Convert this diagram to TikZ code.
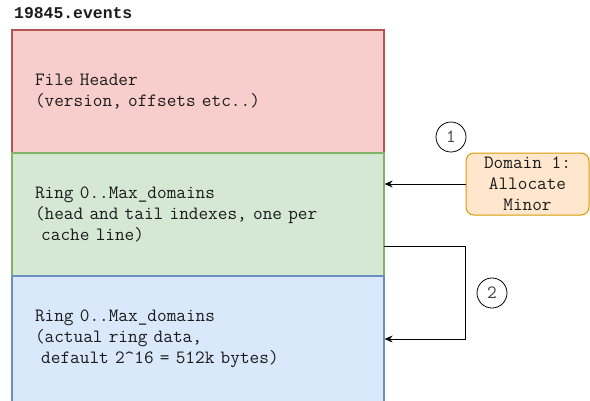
\documentclass[tikz,border=0pt]{standalone}
\usepackage{fontspec}
\usepackage{tikz}
\usetikzlibrary{arrows.meta}
\newfontfamily\monobold{Liberation Mono}
\definecolor{hdrfill}{HTML}{F8CECC}
\definecolor{hdrline}{HTML}{B85450}
\definecolor{ringfill}{HTML}{D5E8D4}
\definecolor{ringline}{HTML}{82B366}
\definecolor{datafill}{HTML}{DAE8FC}
\definecolor{dataline}{HTML}{6C8EBF}
\definecolor{domfill}{HTML}{FFE6CC}
\definecolor{domline}{HTML}{D79B00}
\definecolor{txt}{HTML}{1A1A1A}

\begin{document}
\begin{tikzpicture}[x=1pt,y=-1pt,
  every node/.style={font=\ttfamily\fontsize{18.75}{21}\selectfont, text=txt},
  region/.style={rectangle, draw, line width=1.3pt, minimum width=372pt,
    text width=326pt, inner xsep=23pt, align=left},
  stepnum/.style={circle, draw, line width=0.8pt, minimum size=30pt, inner sep=0pt,
    text=black!75},
  arr/.style={-{Stealth[length=8pt,width=7pt]}, line width=0.9pt}]

  \def\xleft{12}
  \def\xright{384}

  \useasboundingbox (0,0) rectangle (590,400);

  % title
  \node[anchor=base west, inner sep=0pt, font=\monobold\bfseries\fontsize{16.4}{21}\selectfont]
    (title) at (14,18) {19845.events};

  % file layout
  \node[region, fill=hdrfill, draw=hdrline, minimum height=123pt] (hdr) at (198,91.5)
    {File Header\\(version, offsets etc..)};
  \node[region, fill=ringfill, draw=ringline, minimum height=123pt] (ring) at (198,214.5)
    {Ring 0..Max\_domains\\(head and tail indexes, one per\\\ cache line)};
  \node[region, fill=datafill, draw=dataline, minimum height=126pt] (data) at (198,339)
    {Ring 0..Max\_domains\\(actual ring data,\\\ default 2\^{}16 = 512k bytes)};

  % domain
  \node[rectangle, rounded corners=8pt, draw=domline, fill=domfill, line width=1pt,
    minimum width=123pt, minimum height=62pt, align=center, inner sep=0pt]
    (dom) at (527.5,184) {Domain 1:\\Allocate\\Minor};

  % steps
  \node[stepnum] (one) at (451,137) {1};
  \node[stepnum] (two) at (492,293) {2};

  % arrows
  \draw[arr] (dom.west) -- (ring.east |- dom.west);
  \coordinate (ringout) at (\xright,246);
  \draw[arr] (ringout) -- (ringout -| dom.west) |- (data.east);

\end{tikzpicture}
\end{document}
